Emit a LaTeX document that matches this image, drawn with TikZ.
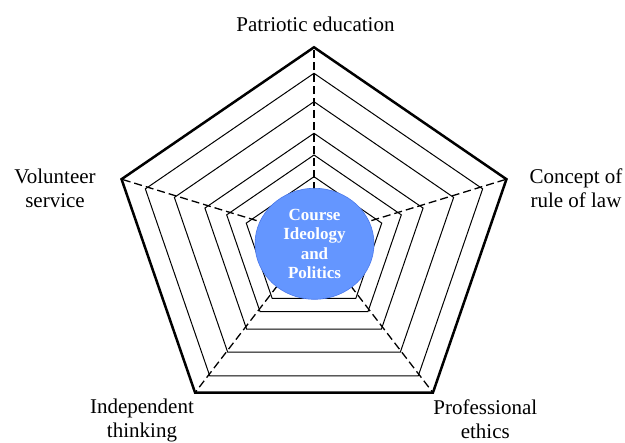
\documentclass[tikz,border=0pt]{standalone}
\usepackage{fontspec}
\setmainfont{Liberation Serif}
\usetikzlibrary{shapes.geometric,positioning}
\definecolor{hubblue}{RGB}{100,150,255}
\definecolor{hubedge}{RGB}{75,120,235}
\tikzstyle{axislabel} = [font=\fontsize{21}{24.3}\selectfont, align=center, inner sep=0pt]
\tikzstyle{ring} = [black, line width=1pt]
\tikzstyle{rim} = [black, line width=2.5pt]
\tikzstyle{spoke} = [black, line width=1.3pt, dash pattern=on 8pt off 4pt]
\tikzstyle{hub} = [ellipse, fill=hubblue, draw=hubedge, line width=0.6pt, minimum width=119pt, minimum height=111pt, inner sep=0pt, text=white, font=\bfseries\fontsize{17}{19.5}\selectfont, align=center]
\newcommand{\drawRing}[3]{
  % #1 radius, #2 centre depth, #3 style
  \draw[#3] ({314+1.06*#1*cos(90)},{-#2+#1*sin(90)})
    \foreach \a in {162,234,306,18} {-- ({314+1.06*#1*cos(\a)},{-#2+#1*sin(\a)})} -- cycle;
}

\begin{document}
\begin{tikzpicture}[x=1pt,y=1pt]
  \useasboundingbox (0,0) rectangle (625,-443);
  % centre and outer corners
  \coordinate (ctr) at (314,-238.2);
  \foreach \a/\n in {90/top,162/left,234/botleft,306/botright,18/right}
    \coordinate (\n) at ({314+1.06*190.9*cos(\a)},{-238.2+190.9*sin(\a)});

  % inner rings
  \drawRing{167.3}{240.6}{ring}
  \drawRing{138.5}{240.2}{ring}
  \drawRing{108.2}{241.5}{ring}
  \drawRing{86.6}{241.6}{ring}
  \drawRing{67.2}{243.9}{ring}

  % spokes
  \foreach \n in {top,left,botleft,botright,right}
    \draw[spoke] (ctr) -- (\n);

  % outer rim
  \draw[rim] (top) -- (left) -- (botleft) -- (botright) -- (right) -- cycle;

  \node[hub] (hub) at (314.5,-243.8) {Course\\Ideology\\and\\Politics};

  % labels
  \node[axislabel] (patriot) at (315.5,-24.3) {Patriotic education};
  \node[axislabel] (law) at (576,-188.3) {Concept of\\rule of law};
  \node[axislabel] (volunteer) at (55,-188.3) {Volunteer\\service};
  \node[axislabel] (thinking) at (142,-420.5) {Independent\\thinking};
  \node[axislabel] (ethics) at (485.3,-419.5) {Professional\\ethics};
\end{tikzpicture}
\end{document}
